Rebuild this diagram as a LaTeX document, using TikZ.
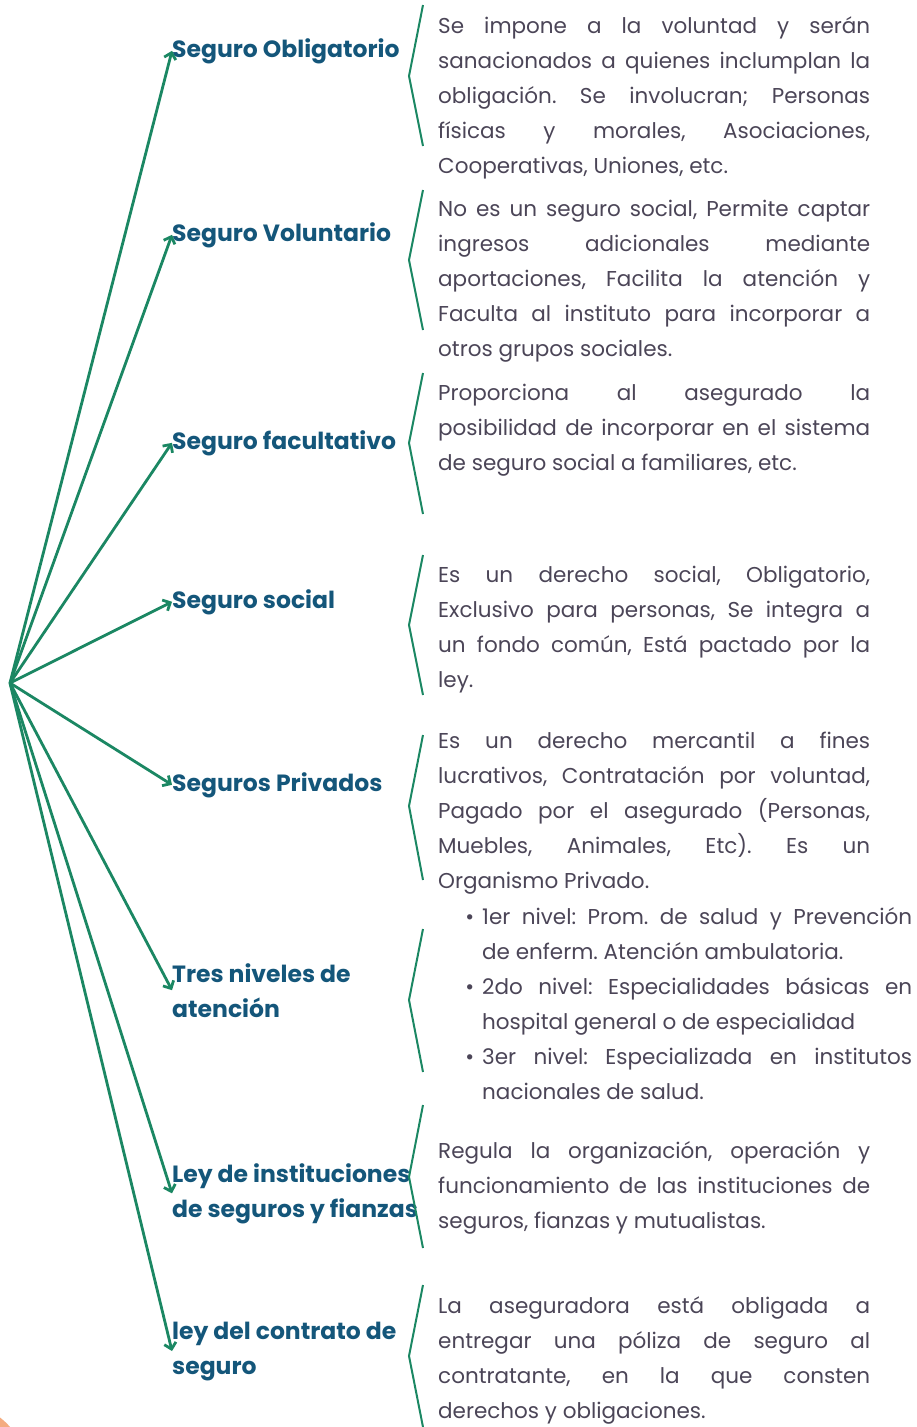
\documentclass[tikz,border=0pt]{standalone}
\usepackage{fontspec}
\setmainfont{Poppins}
\usetikzlibrary{arrows.meta}
\definecolor{arrowgreen}{HTML}{1B8763}
\definecolor{headblue}{HTML}{14567A}
\definecolor{textgray}{HTML}{4B4557}
\definecolor{peach}{HTML}{F4AC80}
\newcommand{\nivel}[1]{{\hangindent=44pt\hangafter=1\noindent\makebox[44pt][r]{\textbullet\hspace{8pt}}#1\par}}

\begin{document}
\begin{tikzpicture}[x=1pt,y=-1pt]
\tikzstyle{heading}=[anchor=base west,inner sep=0pt,align=left,font=\fontsize{23.5}{35}\selectfont\bfseries,text=headblue]
\tikzstyle{body}=[anchor=base west,inner sep=0pt,text width=432pt,align=justify,font=\fontsize{21.5}{35}\selectfont\frenchspacing,text=textgray]
\tikzstyle{link}=[arrowgreen,line width=2.8pt,-{Straight Barb[length=6pt,width=12pt]}]
\tikzstyle{brace}=[arrowgreen,line width=2pt]
\useasboundingbox (0,0) rectangle (917,1427);
\fill[peach] (-40,1470) circle (66);
\coordinate (hub) at (10,683);
% titulos
\node[heading] (oblig) at (172,57) {Seguro Obligatorio};
\node[heading] (volun) at (172,241) {Seguro Voluntario};
\node[heading] (facul) at (172,449) {Seguro facultativo};
\node[heading] (social) at (172,608) {Seguro social};
\node[heading] (priv) at (172,791) {Seguros Privados};
\node[heading] (tres) at (172,1017) {Tres niveles de\\atención};
\node[heading] (leyins) at (172,1217) {Ley de instituciones\\de seguros y fianzas};
\node[heading] (leycon) at (172,1374) {ley del contrato de\\seguro};
\foreach \name in {oblig,volun,facul,social,priv,tres,leyins,leycon}
	\draw[link] (hub) -- (\name.west);
% llaves
\foreach \top/\mid/\bot in {5/76/146, 190/260/330, 373/443/514, 555/625/695,
	735/806/880, 929/1000/1072, 1105/1177/1248, 1285/1356/1427}
	\draw[brace] (423,\top) -- (409,\mid) -- (423,\bot);
% textos
\node[body] (t1) at (438,33) {Se impone a la voluntad y serán\linebreak sanacionados a quienes inclumplan la\linebreak obligación. Se involucran; Personas\linebreak físicas y morales, Asociaciones,\linebreak Cooperativas, Uniones, etc.};
\node[body] (t2) at (438,216) {No es un seguro social, Permite captar\linebreak ingresos adicionales mediante\linebreak aportaciones, Facilita la atención y\linebreak Faculta al instituto para incorporar a\linebreak otros grupos sociales.};
\node[body] (t3) at (438,400) {Proporciona al asegurado la\linebreak posibilidad de incorporar en el sistema\linebreak de seguro social a familiares, etc.};
\node[body] (t4) at (438,582) {Es un derecho social, Obligatorio,\linebreak Exclusivo para personas, Se integra a\linebreak un fondo común, Está pactado por la\linebreak ley.};
\node[body] (t5) at (438,748) {Es un derecho mercantil a fines\linebreak lucrativos, Contratación por voluntad,\linebreak Pagado por el asegurado (Personas,\linebreak Muebles, Animales, Etc). Es un\linebreak Organismo Privado.};
\node[body,text width=474pt] (t6) at (438,924) {\nivel{1er nivel: Prom. de salud y Prevención\linebreak de enferm. Atención ambulatoria.}%
	\nivel{2do nivel: Especialidades básicas en\linebreak hospital general o de especialidad}%
	\nivel{3er nivel: Especializada en institutos\linebreak nacionales de salud.}};
\node[body] (t7) at (438,1158) {Regula la organización, operación y\linebreak funcionamiento de las instituciones de\linebreak seguros, fianzas y mutualistas.};
\node[body] (t8) at (438,1313) {La aseguradora está obligada a\linebreak entregar una póliza de seguro al\linebreak contratante, en la que consten\linebreak derechos y obligaciones.};
\end{tikzpicture}
\end{document}
